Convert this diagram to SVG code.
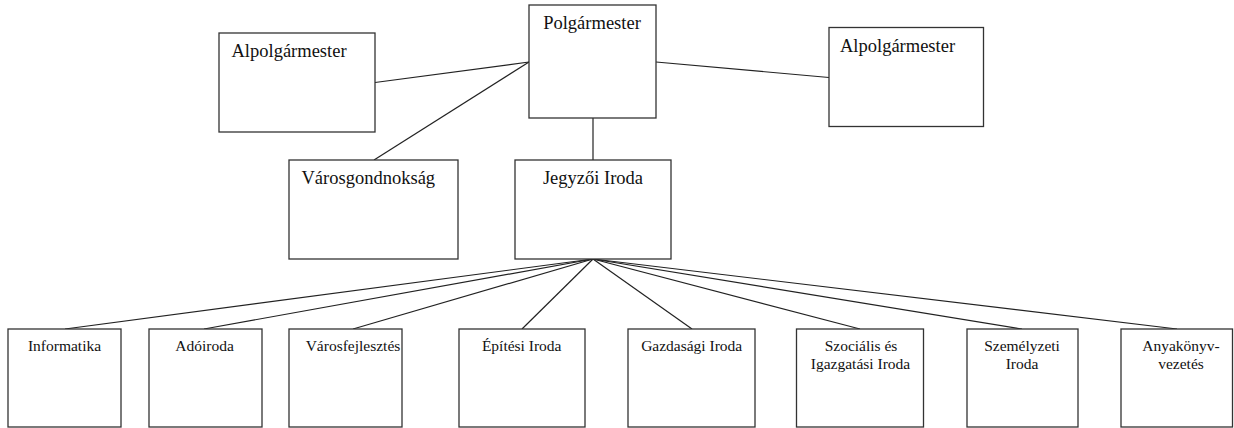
<svg xmlns="http://www.w3.org/2000/svg" width="1234" height="428" viewBox="0 0 1234 428">
<style>
.box{fill:#fff;stroke:#333;stroke-width:1.3}
.ln{stroke:#222;stroke-width:1.2;fill:none}
.t1{font-family:"Liberation Serif",serif;font-size:18.5px;fill:#111}
.t2{font-family:"Liberation Serif",serif;font-size:15.5px;fill:#111;text-anchor:middle}
</style>
<rect width="1234" height="428" fill="#fff"/>
<g id="connectors">
<line class="ln" x1="375" y1="82.5" x2="529" y2="62"/>
<line class="ln" x1="656" y1="62" x2="829" y2="77.5"/>
<line class="ln" x1="529" y1="62" x2="374" y2="160"/>
<line class="ln" x1="593" y1="118" x2="593" y2="160"/>
<line class="ln" x1="593" y1="259" x2="65" y2="329"/>
<line class="ln" x1="593" y1="259" x2="204" y2="329"/>
<line class="ln" x1="593" y1="259" x2="353" y2="329"/>
<line class="ln" x1="593" y1="259" x2="522" y2="329"/>
<line class="ln" x1="593" y1="259" x2="692" y2="329"/>
<line class="ln" x1="593" y1="259" x2="860" y2="329"/>
<line class="ln" x1="593" y1="259" x2="1022" y2="329"/>
<line class="ln" x1="593" y1="259" x2="1177" y2="329"/>
</g>
<g id="polgarmester"><rect class="box" x="529" y="5" width="127" height="113"/><text class="t1" x="592" y="29" text-anchor="middle">Polgármester</text></g>
<g id="alpolg-left"><rect class="box" x="219" y="33" width="156" height="99"/><text class="t1" x="231.5" y="56.7">Alpolgármester</text></g>
<g id="alpolg-right"><rect class="box" x="829" y="27.5" width="154.5" height="99"/><text class="t1" x="840" y="51.7">Alpolgármester</text></g>
<g id="varosgondnoksag"><rect class="box" x="289" y="160" width="169" height="99"/><text class="t1" x="301.5" y="184.3">Városgondnokság</text></g>
<g id="jegyzoi-iroda"><rect class="box" x="515" y="160" width="156" height="99"/><text class="t1" x="593" y="184.3" text-anchor="middle">Jegyzői Iroda</text></g>
<g id="informatika"><rect class="box" x="8" y="329" width="113" height="98"/><text class="t2" x="64.5" y="350.7">Informatika</text></g>
<g id="adoiroda"><rect class="box" x="149" y="329" width="113" height="98"/><text class="t2" x="204.5" y="350.7">Adóiroda</text></g>
<g id="varosfejlesztes"><rect class="box" x="289" y="329" width="113" height="98"/><text class="t2" x="353" y="350.7">Városfejlesztés</text></g>
<g id="epitesi-iroda"><rect class="box" x="459" y="329" width="126" height="98"/><text class="t2" x="521.7" y="350.7">Építési Iroda</text></g>
<g id="gazdasagi-iroda"><rect class="box" x="628" y="329" width="127" height="98"/><text class="t2" x="691.7" y="350.7">Gazdasági Iroda</text></g>
<g id="szocialis"><rect class="box" x="796.5" y="329" width="127" height="98"/><text class="t2" x="861" y="350.7">Szociális és</text><text class="t2" x="860.5" y="369.3">Igazgatási Iroda</text></g>
<g id="szemelyzeti"><rect class="box" x="967" y="329" width="111" height="98"/><text class="t2" x="1022" y="350.7">Személyzeti</text><text class="t2" x="1022" y="369.3">Iroda</text></g>
<g id="anyakonyv"><rect class="box" x="1121" y="329" width="111.5" height="98"/><text class="t2" x="1181" y="350.7">Anyakönyv-</text><text class="t2" x="1181" y="369.3">vezetés</text></g>
</svg>
